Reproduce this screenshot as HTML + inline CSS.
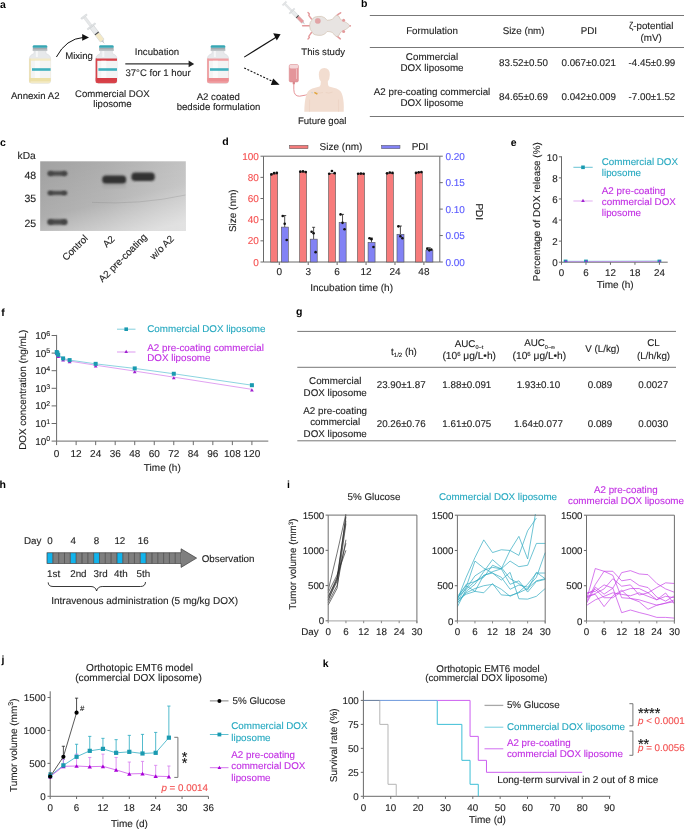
<!DOCTYPE html>
<html><head><meta charset="utf-8"><style>
html,body{margin:0;padding:0;background:#fff;}
svg{display:block;will-change:transform;}
text{font-family:"Liberation Sans",sans-serif;stroke-width:0.12px;text-rendering:geometricPrecision;}
</style></head><body>
<svg width="685" height="829" viewBox="0 0 685 829">
<rect width="685" height="829" fill="#fff"/>
<g font-size="9.8" fill="#1e1e1e">
<text x="0.00" y="7.80" font-weight="bold" fill="#000" font-size="10.5">a</text>
<text x="361.00" y="7.00" font-weight="bold" fill="#000" font-size="10.5">b</text>
<text x="0.00" y="145.80" font-weight="bold" fill="#000" font-size="10.5">c</text>
<text x="222.30" y="145.40" font-weight="bold" fill="#000" font-size="10.5">d</text>
<text x="510.80" y="145.60" font-weight="bold" fill="#000" font-size="10.5">e</text>
<text x="1.20" y="316.20" font-weight="bold" fill="#000" font-size="10.5">f</text>
<text x="296.00" y="314.60" font-weight="bold" fill="#000" font-size="10.5">g</text>
<text x="-0.60" y="487.60" font-weight="bold" fill="#000" font-size="10.5">h</text>
<text x="287.00" y="487.80" font-weight="bold" fill="#000" font-size="10.5">i</text>
<text x="1.50" y="663.20" font-weight="bold" fill="#000" font-size="10.5">j</text>
<text x="322.80" y="667.10" font-weight="bold" fill="#000" font-size="10.5">k</text>
<path d="M34.00,50.6 L34.00,53.6 Q29.60,55 29.40,58.6 L29.40,81 Q29.40,83.3 31.80,83.3 L48.20,83.3 Q50.60,83.3 50.60,81 L50.60,58.6 Q50.40,55 46.00,53.6 L46.00,50.6 Z" fill="#e7e9eb" stroke="#d4d7da" stroke-width="0.5"/>
<rect x="35.90" y="51.00" width="2.00" height="6.00" fill="#f6f7f8"/>
<path d="M29.40,58.6 L29.40,81 Q29.40,83.3 31.80,83.3 L48.20,83.3 Q50.60,83.3 50.60,81 L50.60,58.6 Z" fill="#f3eac6"/>
<rect x="29.40" y="77.80" width="21.20" height="3.50" fill="#ede0a6"/>
<rect x="29.40" y="58.60" width="1.10" height="24.00" fill="#eadcaa"/>
<rect x="30.90" y="60.80" width="19.70" height="17.20" fill="#f4f4f4"/>
<rect x="34.90" y="60.80" width="5.00" height="17.20" fill="#fbfbfb"/>
<rect x="32.00" y="68.20" width="18.60" height="2.60" fill="#3fb0bd"/>
<rect x="32.80" y="47.50" width="14.40" height="3.30" fill="#a4aaaf"/>
<rect x="32.80" y="49.50" width="14.40" height="1.30" fill="#c3c7ca"/>
<path d="M32.80,47.8 L32.80,46.3 Q32.80,45.2 34.00,45.2 L46.00,45.2 Q47.20,45.2 47.20,46.3 L47.20,47.8 Z" fill="#37a7b4"/>
<path d="M100.40,50.6 L100.40,53.6 Q96.00,55 95.80,58.6 L95.80,81 Q95.80,83.3 98.20,83.3 L114.60,83.3 Q117.00,83.3 117.00,81 L117.00,58.6 Q116.80,55 112.40,53.6 L112.40,50.6 Z" fill="#e7e9eb" stroke="#d4d7da" stroke-width="0.5"/>
<rect x="102.30" y="51.00" width="2.00" height="6.00" fill="#f6f7f8"/>
<path d="M95.80,58.6 L95.80,81 Q95.80,83.3 98.20,83.3 L114.60,83.3 Q117.00,83.3 117.00,81 L117.00,58.6 Z" fill="#d8434a"/>
<rect x="95.80" y="77.80" width="21.20" height="3.50" fill="#d63e46"/>
<rect x="95.80" y="58.60" width="1.10" height="24.00" fill="#d8434a"/>
<rect x="97.30" y="60.80" width="19.70" height="17.20" fill="#f4f4f4"/>
<rect x="101.30" y="60.80" width="5.00" height="17.20" fill="#fbfbfb"/>
<rect x="98.40" y="68.20" width="18.60" height="2.60" fill="#3fb0bd"/>
<rect x="99.20" y="47.50" width="14.40" height="3.30" fill="#a4aaaf"/>
<rect x="99.20" y="49.50" width="14.40" height="1.30" fill="#c3c7ca"/>
<path d="M99.20,47.8 L99.20,46.3 Q99.20,45.2 100.40,45.2 L112.40,45.2 Q113.60,45.2 113.60,46.3 L113.60,47.8 Z" fill="#37a7b4"/>
<path d="M212.00,50.6 L212.00,53.6 Q207.60,55 207.40,58.6 L207.40,81 Q207.40,83.3 209.80,83.3 L226.20,83.3 Q228.60,83.3 228.60,81 L228.60,58.6 Q228.40,55 224.00,53.6 L224.00,50.6 Z" fill="#e7e9eb" stroke="#d4d7da" stroke-width="0.5"/>
<rect x="213.90" y="51.00" width="2.00" height="6.00" fill="#f6f7f8"/>
<path d="M207.40,58.6 L207.40,81 Q207.40,83.3 209.80,83.3 L226.20,83.3 Q228.60,83.3 228.60,81 L228.60,58.6 Z" fill="#f0a0a3"/>
<rect x="207.40" y="77.80" width="21.20" height="3.50" fill="#ec8d91"/>
<rect x="207.40" y="58.60" width="1.10" height="24.00" fill="#ee979a"/>
<rect x="208.90" y="60.80" width="19.70" height="17.20" fill="#f4f4f4"/>
<rect x="212.90" y="60.80" width="5.00" height="17.20" fill="#fbfbfb"/>
<rect x="210.00" y="68.20" width="18.60" height="2.60" fill="#3fb0bd"/>
<rect x="210.80" y="47.50" width="14.40" height="3.30" fill="#a4aaaf"/>
<rect x="210.80" y="49.50" width="14.40" height="1.30" fill="#c3c7ca"/>
<path d="M210.80,47.8 L210.80,46.3 Q210.80,45.2 212.00,45.2 L224.00,45.2 Q225.20,45.2 225.20,46.3 L225.20,47.8 Z" fill="#37a7b4"/>
<g transform="translate(84.00 16.60) rotate(52.83) scale(1.029 1.000)"><rect x="-0.7" y="-3.6" width="1.6" height="7.2" rx="0.6" fill="#e3e5e6" stroke="#c9cdd0" stroke-width="0.4"/><rect x="0.9" y="-1.3" width="10.4" height="2.6" fill="#e6e8e9" stroke="#cdd1d3" stroke-width="0.35"/><rect x="11.2" y="-5.0" width="1.5" height="10.0" rx="0.6" fill="#e0e2e4" stroke="#c6cacd" stroke-width="0.4"/><rect x="12.7" y="-2.35" width="16.6" height="4.7" fill="#e9ebec" stroke="#c2c6c9" stroke-width="0.45"/><rect x="21.2" y="-2.15" width="8.0" height="4.3" fill="#f4e9c6"/><rect x="20.0" y="-2.3" width="1.2" height="4.6" fill="#4a4a4a"/><path d="M29.3,-1.5 L30.8,-0.6 L30.8,0.6 L29.3,1.5 Z" fill="#c3c7ca"/><path d="M30.8,-0.3 L33.3,0 L30.8,0.3 Z" fill="#9aa0a4"/></g>
<path d="M56.4,57 Q66,38.8 83.5,37.4" fill="none" stroke="#111" stroke-width="1.0"/>
<path d="M82.2,34 L89,37.4 L82.2,40.8 Z" fill="#111"/>
<text x="65.20" y="58.60" stroke="#1e1e1e" font-size="9.6">Mixing</text>
<text x="35.20" y="98.50" text-anchor="middle" stroke="#1e1e1e" font-size="9.6">Annexin A2</text>
<text x="112.30" y="97.20" text-anchor="middle" stroke="#1e1e1e" font-size="9.6">Commercial DOX</text>
<text x="112.50" y="106.80" text-anchor="middle" stroke="#1e1e1e" font-size="9.6">liposome</text>
<line x1="125.30" y1="63.90" x2="190.00" y2="63.90" stroke="#333" stroke-width="1.2"/>
<path d="M188.6,60.6 L194.2,63.9 L188.6,67.2 Z" fill="#222"/>
<text x="157.00" y="54.60" text-anchor="middle" stroke="#1e1e1e" font-size="9.6">Incubation</text>
<text x="158.00" y="76.20" text-anchor="middle" stroke="#1e1e1e" font-size="9.6">37°C for 1 hour</text>
<text x="218.30" y="100.00" text-anchor="middle" stroke="#1e1e1e" font-size="9.6">A2 coated</text>
<text x="218.50" y="109.60" text-anchor="middle" stroke="#1e1e1e" font-size="9.6">bedside formulation</text>
<line x1="244.20" y1="57.10" x2="276.50" y2="37.00" stroke="#111" stroke-width="1.1"/>
<path d="M273.2,33.2 L280.6,34.2 L276.8,40.6 Z" fill="#111"/>
<line x1="244.20" y1="68.00" x2="274.50" y2="82.20" stroke="#111" stroke-width="1.1" stroke-dasharray="2.0 1.5"/>
<path d="M273.2,78.4 L279.6,84.8 L270.8,84.9 Z" fill="#111"/>
<g fill="none" stroke-linecap="round" stroke-linejoin="round"><path d="M302.6,25.8 L310,25.8" stroke="#e49a9c" stroke-width="1.5"/><path d="M311.5,19 L310,17 L308.8,15.3 L309.4,14 L308,12.6" stroke="#e49a9c" stroke-width="1.4"/><path d="M311.5,32.5 L310,34.6 L308.8,36.3 L309.4,37.6 L308,38.9" stroke="#e49a9c" stroke-width="1.4"/><path d="M336.5,16 L338.5,14.2 L340.6,12.8" stroke="#e49a9c" stroke-width="1.6"/><path d="M336.5,35.6 L338.5,37.4 L340.3,38.8" stroke="#e49a9c" stroke-width="1.6"/></g>
<path d="M309.6,25.8 Q309.8,21.5 311.8,20.3 Q313,17.4 315,17 Q318,16.2 321.6,16.4 Q325,17 327.1,20.3 Q330,20.2 332.6,19.2 Q334.5,16 336.6,15.2 Q339,15.2 340,18.5 Q341,20.2 343.5,21.2 Q346.5,22.2 349.2,24.8 Q350.6,25.8 349.2,26.8 Q346.5,29.4 343.5,30.5 Q341,31.5 340,33.2 Q339,36.6 336.6,36.6 Q334.5,35.8 332.6,32.6 Q330,31.4 327.1,31.5 Q325,34.8 321.6,35.3 Q318,35.6 315,34.8 Q313,34.4 311.8,31.5 Q309.8,30.2 309.6,25.8 Z" fill="#e8e4e2" stroke="#cdbba8" stroke-width="0.6"/>
<circle cx="317.8" cy="20.9" r="2.7" fill="#e2a4a6" stroke="#d99a9d" stroke-width="0.3"/>
<circle cx="343.6" cy="20.2" r="1.5" fill="#e49a9c"/><circle cx="343.6" cy="31.4" r="1.5" fill="#e49a9c"/>
<circle cx="350.2" cy="25.8" r="0.9" fill="#e49a9c"/>
<g transform="translate(284.40 3.40) rotate(45.54) scale(0.900 0.720)"><rect x="-0.7" y="-3.6" width="1.6" height="7.2" rx="0.6" fill="#e3e5e6" stroke="#c9cdd0" stroke-width="0.4"/><rect x="0.9" y="-1.3" width="10.4" height="2.6" fill="#e6e8e9" stroke="#cdd1d3" stroke-width="0.35"/><rect x="11.2" y="-5.0" width="1.5" height="10.0" rx="0.6" fill="#e0e2e4" stroke="#c6cacd" stroke-width="0.4"/><rect x="12.7" y="-2.35" width="16.6" height="4.7" fill="#e9ebec" stroke="#c2c6c9" stroke-width="0.45"/><rect x="21.2" y="-2.15" width="8.0" height="4.3" fill="#e89a9e"/><rect x="20.0" y="-2.3" width="1.2" height="4.6" fill="#4a4a4a"/><path d="M29.3,-1.5 L30.8,-0.6 L30.8,0.6 L29.3,1.5 Z" fill="#c3c7ca"/><path d="M30.8,-0.3 L33.3,0 L30.8,0.3 Z" fill="#9aa0a4"/></g>
<text x="323.20" y="55.00" text-anchor="middle" stroke="#1e1e1e" font-size="9.6">This study</text>
<g><rect x="289.2" y="64.5" width="9.2" height="17.5" rx="1.6" fill="#e4959a" stroke="#d88489" stroke-width="0.5"/><rect x="289.5" y="64.8" width="8.6" height="3.6" rx="1.3" fill="#f4d6d8"/><rect x="296" y="69" width="0.9" height="10" fill="#f0c2c4"/><rect x="292.7" y="81.8" width="2.2" height="2.4" fill="#d88489"/><path d="M293.8,84 L293.8,89.5 Q294,96.3 299.5,96.2 Q305.5,95.6 311,93.2" stroke="#e0787e" stroke-width="0.8" fill="none"/><path d="M304.3,111.8 Q304.4,102 306,96 Q307.2,90.6 312.3,88.6 L319.6,86.6 Q320.9,85.6 320.8,81.6 Q318.8,79.2 318.8,74.8 Q318.8,68 324.3,68 Q329.8,68 329.8,74.8 Q329.8,79.2 327.8,81.6 Q327.7,85.6 329,86.6 L336.4,88.6 Q341.5,90.6 342.6,96 Q344.2,102 343.7,111.8 Z" fill="#f2ddd0"/><path d="M309.5,111.8 L309.6,99.5 M338.5,111.8 L338.4,99.5" stroke="#e9cdbd" stroke-width="0.5" fill="none"/><path d="M316,92 Q320,94 323,92.5 M332.6,92 Q328.6,94 325.6,92.5" stroke="#e6cab9" stroke-width="0.5" fill="none"/><path d="M311.3,92.4 L313,93" stroke="#cfd3d6" stroke-width="1.2"/><path d="M314.4,92.4 L317.4,94.2" stroke="#e0a33a" stroke-width="1.5"/></g>
<text x="322.20" y="124.00" text-anchor="middle" stroke="#1e1e1e" font-size="9.6">Future goal</text>
<line x1="369.80" y1="15.50" x2="684.00" y2="15.50" stroke="#777" stroke-width="1"/>
<line x1="369.80" y1="47.50" x2="684.00" y2="47.50" stroke="#777" stroke-width="1"/>
<line x1="369.80" y1="116.50" x2="684.00" y2="116.50" stroke="#777" stroke-width="1"/>
<text x="432.00" y="34.00" text-anchor="middle" stroke="#1e1e1e">Formulation</text>
<text x="523.60" y="34.00" text-anchor="middle" stroke="#1e1e1e">Size (nm)</text>
<text x="588.80" y="34.00" text-anchor="middle" stroke="#1e1e1e">PDI</text>
<text x="651.20" y="29.00" text-anchor="middle" stroke="#1e1e1e">ζ-potential</text>
<text x="651.20" y="41.40" text-anchor="middle" stroke="#1e1e1e">(mV)</text>
<text x="432.00" y="59.60" text-anchor="middle" stroke="#1e1e1e">Commercial</text>
<text x="432.00" y="71.30" text-anchor="middle" stroke="#1e1e1e">DOX liposome</text>
<text x="432.00" y="94.60" text-anchor="middle" stroke="#1e1e1e">A2 pre-coating commercial</text>
<text x="432.00" y="106.30" text-anchor="middle" stroke="#1e1e1e">DOX liposome</text>
<text x="523.50" y="66.30" text-anchor="middle" stroke="#1e1e1e">83.52±0.50</text>
<text x="588.70" y="66.30" text-anchor="middle" stroke="#1e1e1e">0.067±0.021</text>
<text x="651.90" y="66.30" text-anchor="middle" stroke="#1e1e1e">-4.45±0.99</text>
<text x="523.50" y="99.60" text-anchor="middle" stroke="#1e1e1e">84.65±0.69</text>
<text x="588.70" y="99.60" text-anchor="middle" stroke="#1e1e1e">0.042±0.009</text>
<text x="651.90" y="99.60" text-anchor="middle" stroke="#1e1e1e">-7.00±1.52</text>
<defs><linearGradient id="gel" x1="0" y1="0" x2="1" y2="0"><stop offset="0" stop-color="#a2a2a2"/><stop offset="0.45" stop-color="#acacac"/><stop offset="1" stop-color="#bfbfbf"/></linearGradient><linearGradient id="gelv" x1="0.25" y1="0" x2="0.75" y2="1"><stop offset="0" stop-color="#fff" stop-opacity="0"/><stop offset="0.55" stop-color="#fff" stop-opacity="0.12"/><stop offset="1" stop-color="#fff" stop-opacity="0.55"/></linearGradient><filter id="blur1" x="-30%" y="-100%" width="160%" height="300%"><feGaussianBlur stdDeviation="1.2"/></filter><filter id="blur2" x="-20%" y="-50%" width="140%" height="200%"><feGaussianBlur stdDeviation="0.5"/></filter></defs>
<rect x="40.20" y="161.30" width="145.60" height="69.60" fill="url(#gel)"/>
<rect x="40.20" y="161.30" width="145.60" height="69.60" fill="url(#gelv)"/>
<rect x="47.6" y="171.20" width="19.6" height="4.6" rx="2" fill="#4a4a4a" filter="url(#blur1)"/>
<rect x="48.2" y="171.60" width="5" height="3.80" rx="2" fill="#444" filter="url(#blur1)"/>
<rect x="61.6" y="171.60" width="5" height="3.80" rx="2" fill="#444" filter="url(#blur1)"/>
<rect x="47.6" y="190.90" width="19.6" height="4.2" rx="2" fill="#4a4a4a" filter="url(#blur1)"/>
<rect x="48.2" y="191.30" width="5" height="3.40" rx="2" fill="#444" filter="url(#blur1)"/>
<rect x="61.6" y="191.30" width="5" height="3.40" rx="2" fill="#444" filter="url(#blur1)"/>
<rect x="47.6" y="219.30" width="19.6" height="5.4" rx="2" fill="#4a4a4a" filter="url(#blur1)"/>
<rect x="48.2" y="219.70" width="5" height="4.60" rx="2" fill="#444" filter="url(#blur1)"/>
<rect x="61.6" y="219.70" width="5" height="4.60" rx="2" fill="#444" filter="url(#blur1)"/>
<rect x="102.2" y="175.4" width="24.0" height="8.4" rx="3.8" fill="#303030" filter="url(#blur1)"/>
<rect x="131.4" y="172.6" width="23.4" height="8.4" rx="3.8" fill="#303030" filter="url(#blur1)"/>
<rect x="102.4" y="184" width="23.4" height="4" fill="#9a9a9a" opacity="0.35" filter="url(#blur1)"/>
<path d="M92,202.4 Q140,205 185.5,195" fill="none" stroke="#808080" stroke-width="0.7" opacity="0.4"/>
<text x="17.60" y="159.10" stroke="#1e1e1e" font-size="10.2">kDa</text>
<text x="36.20" y="178.50" text-anchor="end" stroke="#1e1e1e" font-size="10.5">48</text>
<text x="36.20" y="201.50" text-anchor="end" stroke="#1e1e1e" font-size="10.5">35</text>
<text x="36.20" y="226.60" text-anchor="end" stroke="#1e1e1e" font-size="10.5">25</text>
<text x="88.60" y="239.00" text-anchor="end" stroke="#1e1e1e" transform="rotate(-45 88.60 239.00)">Control</text>
<text x="115.30" y="239.60" text-anchor="end" stroke="#1e1e1e" transform="rotate(-45 115.30 239.60)">A2</text>
<text x="147.60" y="237.70" text-anchor="end" stroke="#1e1e1e" transform="rotate(-45 147.60 237.70)">A2 pre-coating</text>
<text x="174.60" y="239.40" text-anchor="end" stroke="#1e1e1e" transform="rotate(-45 174.60 239.40)">w/o A2</text>
<line x1="263.50" y1="156.20" x2="439.80" y2="156.20" stroke="#6a6a6a" stroke-width="1"/>
<line x1="263.50" y1="156.20" x2="263.50" y2="262.00" stroke="#6a6a6a" stroke-width="1"/>
<line x1="439.80" y1="156.20" x2="439.80" y2="262.00" stroke="#6a6a6a" stroke-width="1"/>
<line x1="263.50" y1="262.00" x2="439.80" y2="262.00" stroke="#6a6a6a" stroke-width="1"/>
<line x1="260.50" y1="262.00" x2="263.50" y2="262.00" stroke="#6a6a6a" stroke-width="1"/>
<text x="258.90" y="265.60" text-anchor="end" fill="#f65050" stroke="#f65050" font-size="10">0</text>
<line x1="260.50" y1="240.84" x2="263.50" y2="240.84" stroke="#6a6a6a" stroke-width="1"/>
<text x="258.90" y="244.44" text-anchor="end" fill="#f65050" stroke="#f65050" font-size="10">20</text>
<line x1="260.50" y1="219.68" x2="263.50" y2="219.68" stroke="#6a6a6a" stroke-width="1"/>
<text x="258.90" y="223.28" text-anchor="end" fill="#f65050" stroke="#f65050" font-size="10">40</text>
<line x1="260.50" y1="198.52" x2="263.50" y2="198.52" stroke="#6a6a6a" stroke-width="1"/>
<text x="258.90" y="202.12" text-anchor="end" fill="#f65050" stroke="#f65050" font-size="10">60</text>
<line x1="260.50" y1="177.36" x2="263.50" y2="177.36" stroke="#6a6a6a" stroke-width="1"/>
<text x="258.90" y="180.96" text-anchor="end" fill="#f65050" stroke="#f65050" font-size="10">80</text>
<line x1="260.50" y1="156.20" x2="263.50" y2="156.20" stroke="#6a6a6a" stroke-width="1"/>
<text x="258.90" y="159.80" text-anchor="end" fill="#f65050" stroke="#f65050" font-size="10">100</text>
<line x1="439.80" y1="262.00" x2="442.80" y2="262.00" stroke="#6a6a6a" stroke-width="1"/>
<text x="445.40" y="265.60" fill="#5a5aff" stroke="#5a5aff" font-size="10">0.00</text>
<line x1="439.80" y1="235.55" x2="442.80" y2="235.55" stroke="#6a6a6a" stroke-width="1"/>
<text x="445.40" y="239.15" fill="#5a5aff" stroke="#5a5aff" font-size="10">0.05</text>
<line x1="439.80" y1="209.10" x2="442.80" y2="209.10" stroke="#6a6a6a" stroke-width="1"/>
<text x="445.40" y="212.70" fill="#5a5aff" stroke="#5a5aff" font-size="10">0.10</text>
<line x1="439.80" y1="182.65" x2="442.80" y2="182.65" stroke="#6a6a6a" stroke-width="1"/>
<text x="445.40" y="186.25" fill="#5a5aff" stroke="#5a5aff" font-size="10">0.15</text>
<line x1="439.80" y1="156.20" x2="442.80" y2="156.20" stroke="#6a6a6a" stroke-width="1"/>
<text x="445.40" y="159.80" fill="#5a5aff" stroke="#5a5aff" font-size="10">0.20</text>
<line x1="279.30" y1="262.00" x2="279.30" y2="265.00" stroke="#6a6a6a" stroke-width="1"/>
<text x="279.30" y="275.40" text-anchor="middle" stroke="#1e1e1e" font-size="10">0</text>
<rect x="270.70" y="173.97" width="7.00" height="88.03" fill="#f77b7b" stroke="#555" stroke-width="0.6"/>
<line x1="284.70" y1="227.09" x2="284.70" y2="215.55" stroke="#222" stroke-width="0.8"/>
<line x1="283.20" y1="215.55" x2="286.20" y2="215.55" stroke="#222" stroke-width="0.8"/>
<rect x="281.30" y="227.09" width="7.00" height="34.91" fill="#8282f5" stroke="#555" stroke-width="0.6"/>
<circle cx="271.40" cy="174.40" r="1.35" fill="#111"/>
<circle cx="274.10" cy="173.13" r="1.35" fill="#111"/>
<circle cx="276.80" cy="172.92" r="1.35" fill="#111"/>
<circle cx="282.70" cy="215.98" r="1.30" fill="#111"/>
<circle cx="284.70" cy="223.70" r="1.30" fill="#111"/>
<circle cx="286.70" cy="239.99" r="1.30" fill="#111"/>
<line x1="308.22" y1="262.00" x2="308.22" y2="265.00" stroke="#6a6a6a" stroke-width="1"/>
<text x="308.22" y="275.40" text-anchor="middle" stroke="#1e1e1e" font-size="10">3</text>
<rect x="299.62" y="171.86" width="7.00" height="90.14" fill="#f77b7b" stroke="#555" stroke-width="0.6"/>
<line x1="313.62" y1="239.15" x2="313.62" y2="227.30" stroke="#222" stroke-width="0.8"/>
<line x1="312.12" y1="227.30" x2="315.12" y2="227.30" stroke="#222" stroke-width="0.8"/>
<rect x="310.22" y="239.15" width="7.00" height="22.85" fill="#8282f5" stroke="#555" stroke-width="0.6"/>
<circle cx="300.32" cy="171.65" r="1.35" fill="#111"/>
<circle cx="303.02" cy="171.44" r="1.35" fill="#111"/>
<circle cx="305.72" cy="172.07" r="1.35" fill="#111"/>
<circle cx="311.62" cy="231.74" r="1.30" fill="#111"/>
<circle cx="313.62" cy="233.22" r="1.30" fill="#111"/>
<circle cx="315.62" cy="252.16" r="1.30" fill="#111"/>
<line x1="337.14" y1="262.00" x2="337.14" y2="265.00" stroke="#6a6a6a" stroke-width="1"/>
<text x="337.14" y="275.40" text-anchor="middle" stroke="#1e1e1e" font-size="10">6</text>
<rect x="328.54" y="173.34" width="7.00" height="88.66" fill="#f77b7b" stroke="#555" stroke-width="0.6"/>
<line x1="342.54" y1="222.64" x2="342.54" y2="214.39" stroke="#222" stroke-width="0.8"/>
<line x1="341.04" y1="214.39" x2="344.04" y2="214.39" stroke="#222" stroke-width="0.8"/>
<rect x="339.14" y="222.64" width="7.00" height="39.36" fill="#8282f5" stroke="#555" stroke-width="0.6"/>
<circle cx="329.24" cy="173.76" r="1.35" fill="#111"/>
<circle cx="331.94" cy="171.01" r="1.35" fill="#111"/>
<circle cx="334.64" cy="173.13" r="1.35" fill="#111"/>
<circle cx="340.54" cy="214.39" r="1.30" fill="#111"/>
<circle cx="342.54" cy="222.85" r="1.30" fill="#111"/>
<circle cx="344.54" cy="229.20" r="1.30" fill="#111"/>
<line x1="366.06" y1="262.00" x2="366.06" y2="265.00" stroke="#6a6a6a" stroke-width="1"/>
<text x="366.06" y="275.40" text-anchor="middle" stroke="#1e1e1e" font-size="10">12</text>
<rect x="357.46" y="173.76" width="7.00" height="88.24" fill="#f77b7b" stroke="#555" stroke-width="0.6"/>
<line x1="371.46" y1="242.32" x2="371.46" y2="238.09" stroke="#222" stroke-width="0.8"/>
<line x1="369.96" y1="238.09" x2="372.96" y2="238.09" stroke="#222" stroke-width="0.8"/>
<rect x="368.06" y="242.32" width="7.00" height="19.68" fill="#8282f5" stroke="#555" stroke-width="0.6"/>
<circle cx="358.16" cy="173.76" r="1.35" fill="#111"/>
<circle cx="360.86" cy="173.55" r="1.35" fill="#111"/>
<circle cx="363.56" cy="173.76" r="1.35" fill="#111"/>
<circle cx="369.46" cy="238.30" r="1.30" fill="#111"/>
<circle cx="371.46" cy="239.15" r="1.30" fill="#111"/>
<circle cx="373.46" cy="246.98" r="1.30" fill="#111"/>
<line x1="394.98" y1="262.00" x2="394.98" y2="265.00" stroke="#6a6a6a" stroke-width="1"/>
<text x="394.98" y="275.40" text-anchor="middle" stroke="#1e1e1e" font-size="10">24</text>
<rect x="386.38" y="173.34" width="7.00" height="88.66" fill="#f77b7b" stroke="#555" stroke-width="0.6"/>
<line x1="400.38" y1="234.28" x2="400.38" y2="226.03" stroke="#222" stroke-width="0.8"/>
<line x1="398.88" y1="226.03" x2="401.88" y2="226.03" stroke="#222" stroke-width="0.8"/>
<rect x="396.98" y="234.28" width="7.00" height="27.72" fill="#8282f5" stroke="#555" stroke-width="0.6"/>
<circle cx="387.08" cy="173.34" r="1.35" fill="#111"/>
<circle cx="389.78" cy="172.49" r="1.35" fill="#111"/>
<circle cx="392.48" cy="172.92" r="1.35" fill="#111"/>
<circle cx="398.38" cy="226.35" r="1.30" fill="#111"/>
<circle cx="400.38" cy="236.18" r="1.30" fill="#111"/>
<circle cx="402.38" cy="238.30" r="1.30" fill="#111"/>
<line x1="423.90" y1="262.00" x2="423.90" y2="265.00" stroke="#6a6a6a" stroke-width="1"/>
<text x="423.90" y="275.40" text-anchor="middle" stroke="#1e1e1e" font-size="10">48</text>
<rect x="415.30" y="172.49" width="7.00" height="89.51" fill="#f77b7b" stroke="#555" stroke-width="0.6"/>
<line x1="429.30" y1="250.15" x2="429.30" y2="247.82" stroke="#222" stroke-width="0.8"/>
<line x1="427.80" y1="247.82" x2="430.80" y2="247.82" stroke="#222" stroke-width="0.8"/>
<rect x="425.90" y="250.15" width="7.00" height="11.85" fill="#8282f5" stroke="#555" stroke-width="0.6"/>
<circle cx="416.00" cy="172.92" r="1.35" fill="#111"/>
<circle cx="418.70" cy="172.28" r="1.35" fill="#111"/>
<circle cx="421.40" cy="172.07" r="1.35" fill="#111"/>
<circle cx="427.30" cy="248.67" r="1.30" fill="#111"/>
<circle cx="429.30" cy="250.36" r="1.30" fill="#111"/>
<circle cx="431.30" cy="249.52" r="1.30" fill="#111"/>
<text x="351.60" y="290.50" text-anchor="middle" stroke="#1e1e1e" font-size="10">Incubation time (h)</text>
<text x="235.60" y="210.70" text-anchor="middle" stroke="#1e1e1e" font-size="10" transform="rotate(-90 235.60 210.70)">Size (nm)</text>
<text x="475.80" y="211.80" text-anchor="middle" stroke="#1e1e1e" font-size="10" transform="rotate(90 475.80 211.80)">PDI</text>
<rect x="289.50" y="145.30" width="18.50" height="3.40" fill="#f47b7b" stroke="#555" stroke-width="0.5"/>
<text x="319.60" y="150.40" stroke="#1e1e1e" font-size="10">Size (nm)</text>
<rect x="381.50" y="145.30" width="18.50" height="3.40" fill="#8282f5" stroke="#555" stroke-width="0.5"/>
<text x="411.70" y="150.40" stroke="#1e1e1e" font-size="10">PDI</text>
<line x1="561.50" y1="156.30" x2="561.50" y2="262.20" stroke="#6a6a6a" stroke-width="1"/>
<line x1="561.50" y1="262.20" x2="667.70" y2="262.20" stroke="#6a6a6a" stroke-width="1"/>
<line x1="558.90" y1="262.20" x2="561.50" y2="262.20" stroke="#6a6a6a" stroke-width="1"/>
<text x="557.70" y="266.40" text-anchor="end" stroke="#1e1e1e">0</text>
<line x1="558.90" y1="241.12" x2="561.50" y2="241.12" stroke="#6a6a6a" stroke-width="1"/>
<text x="557.70" y="245.32" text-anchor="end" stroke="#1e1e1e">2</text>
<line x1="558.90" y1="220.04" x2="561.50" y2="220.04" stroke="#6a6a6a" stroke-width="1"/>
<text x="557.70" y="224.24" text-anchor="end" stroke="#1e1e1e">4</text>
<line x1="558.90" y1="198.96" x2="561.50" y2="198.96" stroke="#6a6a6a" stroke-width="1"/>
<text x="557.70" y="203.16" text-anchor="end" stroke="#1e1e1e">6</text>
<line x1="558.90" y1="177.88" x2="561.50" y2="177.88" stroke="#6a6a6a" stroke-width="1"/>
<text x="557.70" y="182.08" text-anchor="end" stroke="#1e1e1e">8</text>
<line x1="558.90" y1="156.80" x2="561.50" y2="156.80" stroke="#6a6a6a" stroke-width="1"/>
<text x="557.70" y="161.00" text-anchor="end" stroke="#1e1e1e">10</text>
<line x1="561.50" y1="262.20" x2="561.50" y2="264.80" stroke="#6a6a6a" stroke-width="1"/>
<text x="561.50" y="275.50" text-anchor="middle" stroke="#1e1e1e">0</text>
<line x1="585.98" y1="262.20" x2="585.98" y2="264.80" stroke="#6a6a6a" stroke-width="1"/>
<text x="585.98" y="275.50" text-anchor="middle" stroke="#1e1e1e">6</text>
<line x1="610.46" y1="262.20" x2="610.46" y2="264.80" stroke="#6a6a6a" stroke-width="1"/>
<text x="610.46" y="275.50" text-anchor="middle" stroke="#1e1e1e">12</text>
<line x1="634.94" y1="262.20" x2="634.94" y2="264.80" stroke="#6a6a6a" stroke-width="1"/>
<text x="634.94" y="275.50" text-anchor="middle" stroke="#1e1e1e">18</text>
<line x1="659.42" y1="262.20" x2="659.42" y2="264.80" stroke="#6a6a6a" stroke-width="1"/>
<text x="659.42" y="275.50" text-anchor="middle" stroke="#1e1e1e">24</text>
<text x="615.20" y="288.30" text-anchor="middle" stroke="#1e1e1e" font-size="10">Time (h)</text>
<text x="540.20" y="211.70" text-anchor="middle" stroke="#1e1e1e" font-size="9.9" transform="rotate(-90 540.20 211.70)">Percentage of DOX release (%)</text>
<polyline points="565.58,261.30 585.98,261.30 659.42,261.10" fill="none" stroke="#27a9c0" stroke-width="0.6" stroke-linejoin="round"/>
<polyline points="565.58,261.60 585.98,261.60 659.42,261.40" fill="none" stroke="#cf7fe8" stroke-width="0.7" stroke-linejoin="round"/>
<rect x="563.68" y="259.60" width="3.80" height="2.60" fill="#1a9ab0"/>
<path d="M564.58,262.11 L567.18,262.11 L565.88,259.89Z" fill="#a020d0"/>
<rect x="584.08" y="259.60" width="3.80" height="2.60" fill="#1a9ab0"/>
<path d="M584.98,262.11 L587.58,262.11 L586.28,259.89Z" fill="#a020d0"/>
<rect x="657.52" y="259.60" width="3.80" height="2.60" fill="#1a9ab0"/>
<path d="M658.42,262.11 L661.02,262.11 L659.72,259.89Z" fill="#a020d0"/>
<line x1="573.40" y1="167.30" x2="592.70" y2="167.30" stroke="#27a9c0" stroke-width="0.7"/>
<rect x="581.20" y="165.50" width="3.60" height="3.60" fill="#1a9ab0"/>
<line x1="573.40" y1="201.00" x2="592.70" y2="201.00" stroke="#d68aec" stroke-width="0.7"/>
<path d="M581.20,201.93 L584.80,201.93 L583.00,198.87Z" fill="#a020d0"/>
<text x="601.80" y="164.60" fill="#27a9c0" stroke="#27a9c0">Commercial DOX</text>
<text x="601.80" y="176.20" fill="#27a9c0" stroke="#27a9c0">liposome</text>
<text x="601.80" y="193.70" fill="#c12ee3" stroke="#c12ee3">A2 pre-coating</text>
<text x="601.80" y="205.00" fill="#c12ee3" stroke="#c12ee3">commercial DOX</text>
<text x="601.80" y="216.30" fill="#c12ee3" stroke="#c12ee3">liposome</text>
<line x1="56.60" y1="334.90" x2="56.60" y2="441.10" stroke="#6a6a6a" stroke-width="1"/>
<line x1="56.60" y1="441.10" x2="268.30" y2="441.10" stroke="#6a6a6a" stroke-width="1"/>
<line x1="51.60" y1="441.10" x2="56.60" y2="441.10" stroke="#6a6a6a" stroke-width="1"/>
<text x="50.20" y="444.50" text-anchor="end" stroke="#1e1e1e" font-size="10">10<tspan dy="-3.2" font-size="7">0</tspan></text>
<line x1="51.60" y1="423.50" x2="56.60" y2="423.50" stroke="#6a6a6a" stroke-width="1"/>
<text x="50.20" y="426.90" text-anchor="end" stroke="#1e1e1e" font-size="10">10<tspan dy="-3.2" font-size="7">1</tspan></text>
<line x1="51.60" y1="405.90" x2="56.60" y2="405.90" stroke="#6a6a6a" stroke-width="1"/>
<text x="50.20" y="409.30" text-anchor="end" stroke="#1e1e1e" font-size="10">10<tspan dy="-3.2" font-size="7">2</tspan></text>
<line x1="51.60" y1="388.30" x2="56.60" y2="388.30" stroke="#6a6a6a" stroke-width="1"/>
<text x="50.20" y="391.70" text-anchor="end" stroke="#1e1e1e" font-size="10">10<tspan dy="-3.2" font-size="7">3</tspan></text>
<line x1="51.60" y1="370.70" x2="56.60" y2="370.70" stroke="#6a6a6a" stroke-width="1"/>
<text x="50.20" y="374.10" text-anchor="end" stroke="#1e1e1e" font-size="10">10<tspan dy="-3.2" font-size="7">4</tspan></text>
<line x1="51.60" y1="353.10" x2="56.60" y2="353.10" stroke="#6a6a6a" stroke-width="1"/>
<text x="50.20" y="356.50" text-anchor="end" stroke="#1e1e1e" font-size="10">10<tspan dy="-3.2" font-size="7">5</tspan></text>
<line x1="51.60" y1="335.50" x2="56.60" y2="335.50" stroke="#6a6a6a" stroke-width="1"/>
<text x="50.20" y="338.90" text-anchor="end" stroke="#1e1e1e" font-size="10">10<tspan dy="-3.2" font-size="7">6</tspan></text>
<line x1="56.60" y1="441.10" x2="56.60" y2="445.10" stroke="#6a6a6a" stroke-width="1"/>
<text x="56.60" y="457.30" text-anchor="middle" stroke="#1e1e1e" font-size="10">0</text>
<line x1="76.13" y1="441.10" x2="76.13" y2="445.10" stroke="#6a6a6a" stroke-width="1"/>
<text x="76.13" y="457.30" text-anchor="middle" stroke="#1e1e1e" font-size="10">12</text>
<line x1="95.66" y1="441.10" x2="95.66" y2="445.10" stroke="#6a6a6a" stroke-width="1"/>
<text x="95.66" y="457.30" text-anchor="middle" stroke="#1e1e1e" font-size="10">24</text>
<line x1="115.19" y1="441.10" x2="115.19" y2="445.10" stroke="#6a6a6a" stroke-width="1"/>
<text x="115.19" y="457.30" text-anchor="middle" stroke="#1e1e1e" font-size="10">36</text>
<line x1="134.72" y1="441.10" x2="134.72" y2="445.10" stroke="#6a6a6a" stroke-width="1"/>
<text x="134.72" y="457.30" text-anchor="middle" stroke="#1e1e1e" font-size="10">48</text>
<line x1="154.25" y1="441.10" x2="154.25" y2="445.10" stroke="#6a6a6a" stroke-width="1"/>
<text x="154.25" y="457.30" text-anchor="middle" stroke="#1e1e1e" font-size="10">60</text>
<line x1="173.78" y1="441.10" x2="173.78" y2="445.10" stroke="#6a6a6a" stroke-width="1"/>
<text x="173.78" y="457.30" text-anchor="middle" stroke="#1e1e1e" font-size="10">72</text>
<line x1="193.31" y1="441.10" x2="193.31" y2="445.10" stroke="#6a6a6a" stroke-width="1"/>
<text x="193.31" y="457.30" text-anchor="middle" stroke="#1e1e1e" font-size="10">84</text>
<line x1="212.84" y1="441.10" x2="212.84" y2="445.10" stroke="#6a6a6a" stroke-width="1"/>
<text x="212.84" y="457.30" text-anchor="middle" stroke="#1e1e1e" font-size="10">96</text>
<line x1="232.37" y1="441.10" x2="232.37" y2="445.10" stroke="#6a6a6a" stroke-width="1"/>
<text x="232.37" y="457.30" text-anchor="middle" stroke="#1e1e1e" font-size="10">108</text>
<line x1="251.90" y1="441.10" x2="251.90" y2="445.10" stroke="#6a6a6a" stroke-width="1"/>
<text x="251.90" y="457.30" text-anchor="middle" stroke="#1e1e1e" font-size="10">120</text>
<text x="162.30" y="471.10" text-anchor="middle" stroke="#1e1e1e" font-size="10">Time (h)</text>
<text x="26.50" y="389.70" text-anchor="middle" stroke="#1e1e1e" font-size="9.9" transform="rotate(-90 26.50 389.70)">DOX concentration (ng/mL)</text>
<polyline points="56.74,352.03 57.41,353.10 58.23,354.81 63.11,358.40 69.62,360.10 95.66,363.85 134.72,368.41 173.78,373.76 251.90,385.20" fill="none" stroke="#4dbccf" stroke-width="0.65" stroke-linejoin="round"/>
<polyline points="56.74,352.73 57.41,353.91 58.23,355.83 63.11,359.38 69.62,361.12 95.66,365.21 134.72,371.09 173.78,377.15 251.90,389.36" fill="none" stroke="#cf6fe9" stroke-width="0.65" stroke-linejoin="round"/>
<path d="M54.84,354.94 L58.64,354.94 L56.74,351.71Z" fill="#a020d0"/>
<path d="M55.51,356.12 L59.31,356.12 L57.41,352.89Z" fill="#a020d0"/>
<path d="M56.33,358.04 L60.13,358.04 L58.23,354.81Z" fill="#a020d0"/>
<path d="M61.21,361.59 L65.01,361.59 L63.11,358.36Z" fill="#a020d0"/>
<path d="M67.72,363.34 L71.52,363.34 L69.62,360.11Z" fill="#a020d0"/>
<path d="M93.76,367.43 L97.56,367.43 L95.66,364.20Z" fill="#a020d0"/>
<path d="M132.82,373.31 L136.62,373.31 L134.72,370.08Z" fill="#a020d0"/>
<path d="M171.88,379.37 L175.68,379.37 L173.78,376.14Z" fill="#a020d0"/>
<path d="M250.00,391.58 L253.80,391.58 L251.90,388.35Z" fill="#a020d0"/>
<rect x="54.74" y="350.03" width="4.00" height="4.00" fill="#1a9ab0"/>
<rect x="55.41" y="351.10" width="4.00" height="4.00" fill="#1a9ab0"/>
<rect x="56.23" y="352.81" width="4.00" height="4.00" fill="#1a9ab0"/>
<rect x="61.11" y="356.40" width="4.00" height="4.00" fill="#1a9ab0"/>
<rect x="67.62" y="358.10" width="4.00" height="4.00" fill="#1a9ab0"/>
<rect x="93.66" y="361.85" width="4.00" height="4.00" fill="#1a9ab0"/>
<rect x="132.72" y="366.41" width="4.00" height="4.00" fill="#1a9ab0"/>
<rect x="171.78" y="371.76" width="4.00" height="4.00" fill="#1a9ab0"/>
<rect x="249.90" y="383.20" width="4.00" height="4.00" fill="#1a9ab0"/>
<line x1="117.00" y1="329.20" x2="135.50" y2="329.20" stroke="#4dbccf" stroke-width="0.7"/>
<rect x="124.40" y="327.40" width="3.60" height="3.60" fill="#1a9ab0"/>
<line x1="117.00" y1="352.00" x2="135.50" y2="352.00" stroke="#cf6fe9" stroke-width="0.7"/>
<path d="M124.40,352.93 L128.00,352.93 L126.20,349.87Z" fill="#a020d0"/>
<text x="147.30" y="332.30" fill="#27a9c0" stroke="#27a9c0">Commercial DOX liposome</text>
<text x="147.30" y="350.70" fill="#c12ee3" stroke="#c12ee3">A2 pre-coating commercial</text>
<text x="147.30" y="361.40" fill="#c12ee3" stroke="#c12ee3">DOX liposome</text>
<line x1="297.30" y1="331.40" x2="676.00" y2="331.40" stroke="#777" stroke-width="1"/>
<line x1="297.30" y1="367.30" x2="676.00" y2="367.30" stroke="#777" stroke-width="1"/>
<line x1="297.30" y1="440.80" x2="676.00" y2="440.80" stroke="#777" stroke-width="1"/>
<text x="404.00" y="354.60" text-anchor="middle" stroke="#1e1e1e">t<tspan font-size="6" dy="2.4">1/2</tspan><tspan dy="-2.4"> (h)</tspan></text>
<text x="469.00" y="346.60" text-anchor="middle" stroke="#1e1e1e">AUC<tspan font-size="5.5" dy="2.6">0−t</tspan></text>
<text x="469.20" y="359.00" text-anchor="middle" stroke="#1e1e1e" font-size="10.2">(10<tspan font-size="6" dy="-3.5">6</tspan><tspan dy="3.5"> μg/L•h)</tspan></text>
<text x="539.60" y="346.40" text-anchor="middle" stroke="#1e1e1e">AUC<tspan font-size="5.5" dy="2.6">0−∞</tspan></text>
<text x="539.40" y="359.00" text-anchor="middle" stroke="#1e1e1e" font-size="10.2">(10<tspan font-size="6" dy="-3.5">6</tspan><tspan dy="3.5"> μg/L•h)</tspan></text>
<text x="602.40" y="352.30" text-anchor="middle" stroke="#1e1e1e">V (L/kg)</text>
<text x="653.50" y="346.30" text-anchor="middle" stroke="#1e1e1e">CL</text>
<text x="653.50" y="358.90" text-anchor="middle" stroke="#1e1e1e">(L/h/kg)</text>
<text x="335.20" y="384.40" text-anchor="middle" stroke="#1e1e1e">Commercial</text>
<text x="335.20" y="395.60" text-anchor="middle" stroke="#1e1e1e">DOX liposome</text>
<text x="335.20" y="413.60" text-anchor="middle" stroke="#1e1e1e">A2 pre-coating</text>
<text x="335.20" y="425.30" text-anchor="middle" stroke="#1e1e1e">commercial</text>
<text x="335.20" y="437.00" text-anchor="middle" stroke="#1e1e1e">DOX liposome</text>
<text x="401.20" y="388.30" text-anchor="middle" stroke="#1e1e1e">23.90±1.87</text>
<text x="466.80" y="388.30" text-anchor="middle" stroke="#1e1e1e">1.88±0.091</text>
<text x="538.40" y="388.30" text-anchor="middle" stroke="#1e1e1e">1.93±0.10</text>
<text x="600.00" y="388.30" text-anchor="middle" stroke="#1e1e1e">0.089</text>
<text x="653.20" y="388.30" text-anchor="middle" stroke="#1e1e1e">0.0027</text>
<text x="401.20" y="426.60" text-anchor="middle" stroke="#1e1e1e">20.26±0.76</text>
<text x="466.80" y="426.60" text-anchor="middle" stroke="#1e1e1e">1.61±0.075</text>
<text x="538.40" y="426.60" text-anchor="middle" stroke="#1e1e1e">1.64±0.077</text>
<text x="600.00" y="426.60" text-anchor="middle" stroke="#1e1e1e">0.089</text>
<text x="653.20" y="426.60" text-anchor="middle" stroke="#1e1e1e">0.0030</text>
<rect x="47.00" y="552.80" width="5.83" height="10.60" fill="#12b4ec"/>
<rect x="52.83" y="552.80" width="5.83" height="10.60" fill="#7f7f7f"/>
<rect x="58.66" y="552.80" width="5.83" height="10.60" fill="#7f7f7f"/>
<rect x="64.49" y="552.80" width="5.83" height="10.60" fill="#7f7f7f"/>
<rect x="70.32" y="552.80" width="5.83" height="10.60" fill="#12b4ec"/>
<rect x="76.15" y="552.80" width="5.83" height="10.60" fill="#7f7f7f"/>
<rect x="81.98" y="552.80" width="5.83" height="10.60" fill="#7f7f7f"/>
<rect x="87.81" y="552.80" width="5.83" height="10.60" fill="#7f7f7f"/>
<rect x="93.64" y="552.80" width="5.83" height="10.60" fill="#12b4ec"/>
<rect x="99.47" y="552.80" width="5.83" height="10.60" fill="#7f7f7f"/>
<rect x="105.30" y="552.80" width="5.83" height="10.60" fill="#7f7f7f"/>
<rect x="111.13" y="552.80" width="5.83" height="10.60" fill="#7f7f7f"/>
<rect x="116.96" y="552.80" width="5.83" height="10.60" fill="#12b4ec"/>
<rect x="122.79" y="552.80" width="5.83" height="10.60" fill="#7f7f7f"/>
<rect x="128.62" y="552.80" width="5.83" height="10.60" fill="#7f7f7f"/>
<rect x="134.45" y="552.80" width="5.83" height="10.60" fill="#7f7f7f"/>
<rect x="140.28" y="552.80" width="5.83" height="10.60" fill="#12b4ec"/>
<rect x="146.11" y="552.80" width="5.83" height="10.60" fill="#7f7f7f"/>
<rect x="151.94" y="552.80" width="5.83" height="10.60" fill="#7f7f7f"/>
<rect x="157.77" y="552.80" width="5.83" height="10.60" fill="#7f7f7f"/>
<rect x="163.60" y="552.80" width="5.83" height="10.60" fill="#7f7f7f"/>
<rect x="169.43" y="552.80" width="5.83" height="10.60" fill="#7f7f7f"/>
<rect x="175.26" y="552.80" width="5.83" height="10.60" fill="#7f7f7f"/>
<line x1="52.83" y1="552.80" x2="52.83" y2="563.40" stroke="#3c3c3c" stroke-width="0.7"/>
<line x1="58.66" y1="552.80" x2="58.66" y2="563.40" stroke="#3c3c3c" stroke-width="0.7"/>
<line x1="64.49" y1="552.80" x2="64.49" y2="563.40" stroke="#3c3c3c" stroke-width="0.7"/>
<line x1="70.32" y1="552.80" x2="70.32" y2="563.40" stroke="#3c3c3c" stroke-width="0.7"/>
<line x1="76.15" y1="552.80" x2="76.15" y2="563.40" stroke="#3c3c3c" stroke-width="0.7"/>
<line x1="81.98" y1="552.80" x2="81.98" y2="563.40" stroke="#3c3c3c" stroke-width="0.7"/>
<line x1="87.81" y1="552.80" x2="87.81" y2="563.40" stroke="#3c3c3c" stroke-width="0.7"/>
<line x1="93.64" y1="552.80" x2="93.64" y2="563.40" stroke="#3c3c3c" stroke-width="0.7"/>
<line x1="99.47" y1="552.80" x2="99.47" y2="563.40" stroke="#3c3c3c" stroke-width="0.7"/>
<line x1="105.30" y1="552.80" x2="105.30" y2="563.40" stroke="#3c3c3c" stroke-width="0.7"/>
<line x1="111.13" y1="552.80" x2="111.13" y2="563.40" stroke="#3c3c3c" stroke-width="0.7"/>
<line x1="116.96" y1="552.80" x2="116.96" y2="563.40" stroke="#3c3c3c" stroke-width="0.7"/>
<line x1="122.79" y1="552.80" x2="122.79" y2="563.40" stroke="#3c3c3c" stroke-width="0.7"/>
<line x1="128.62" y1="552.80" x2="128.62" y2="563.40" stroke="#3c3c3c" stroke-width="0.7"/>
<line x1="134.45" y1="552.80" x2="134.45" y2="563.40" stroke="#3c3c3c" stroke-width="0.7"/>
<line x1="140.28" y1="552.80" x2="140.28" y2="563.40" stroke="#3c3c3c" stroke-width="0.7"/>
<line x1="146.11" y1="552.80" x2="146.11" y2="563.40" stroke="#3c3c3c" stroke-width="0.7"/>
<line x1="151.94" y1="552.80" x2="151.94" y2="563.40" stroke="#3c3c3c" stroke-width="0.7"/>
<line x1="157.77" y1="552.80" x2="157.77" y2="563.40" stroke="#3c3c3c" stroke-width="0.7"/>
<line x1="163.60" y1="552.80" x2="163.60" y2="563.40" stroke="#3c3c3c" stroke-width="0.7"/>
<line x1="169.43" y1="552.80" x2="169.43" y2="563.40" stroke="#3c3c3c" stroke-width="0.7"/>
<line x1="175.26" y1="552.80" x2="175.26" y2="563.40" stroke="#3c3c3c" stroke-width="0.7"/>
<rect x="47.00" y="552.80" width="134.09" height="10.60" fill="none" stroke="#3c3c3c" stroke-width="0.7"/>
<path d="M181.09,552.80 L181.09,548.8 L196.6,558.1 L181.09,567.4 L181.09,563.40" fill="#7f7f7f" stroke="#3c3c3c" stroke-width="0.7"/>
<text x="24.00" y="544.20" stroke="#1e1e1e">Day</text>
<text x="49.91" y="544.20" text-anchor="middle" stroke="#1e1e1e">0</text>
<text x="73.23" y="544.20" text-anchor="middle" stroke="#1e1e1e">4</text>
<text x="96.56" y="544.20" text-anchor="middle" stroke="#1e1e1e">8</text>
<text x="119.88" y="544.20" text-anchor="middle" stroke="#1e1e1e">12</text>
<text x="143.19" y="544.20" text-anchor="middle" stroke="#1e1e1e">16</text>
<text x="53.60" y="576.80" text-anchor="middle" stroke="#1e1e1e">1st</text>
<text x="78.40" y="576.80" text-anchor="middle" stroke="#1e1e1e">2nd</text>
<text x="100.60" y="576.80" text-anchor="middle" stroke="#1e1e1e">3rd</text>
<text x="120.80" y="576.80" text-anchor="middle" stroke="#1e1e1e">4th</text>
<text x="143.30" y="576.80" text-anchor="middle" stroke="#1e1e1e">5th</text>
<text x="201.70" y="562.20" stroke="#1e1e1e">Observation</text>
<path d="M48.2,582.4 Q48.2,586.5 53,586.5 L91,586.5 Q95.5,586.5 96.6,591 Q97.7,586.5 102.2,586.5 L140.5,586.5 Q145.3,586.5 145.5,582" fill="none" stroke="#222" stroke-width="0.9"/>
<text x="144.60" y="603.80" text-anchor="middle" stroke="#1e1e1e" font-size="10">Intravenous administration (5 mg/kg DOX)</text>
<svg x="327.70" y="514.60" width="89.70" height="106.70" viewBox="327.70 514.60 89.70 106.70" overflow="hidden">
<polyline points="328.20,599.66 337.07,581.34 345.94,515.10" fill="none" stroke="#2a2a2a" stroke-width="0.65" stroke-linejoin="round"/>
<polyline points="328.20,597.55 337.07,577.11 345.94,517.21" fill="none" stroke="#2a2a2a" stroke-width="0.65" stroke-linejoin="round"/>
<polyline points="328.20,602.48 337.07,585.57 345.94,539.76" fill="none" stroke="#2a2a2a" stroke-width="0.65" stroke-linejoin="round"/>
<polyline points="328.20,592.61 337.07,575.00 345.94,550.33" fill="none" stroke="#2a2a2a" stroke-width="0.65" stroke-linejoin="round"/>
<polyline points="328.20,605.02 337.07,588.39 345.94,523.56" fill="none" stroke="#2a2a2a" stroke-width="0.65" stroke-linejoin="round"/>
<polyline points="328.20,590.36 337.07,553.15 345.94,513.69" fill="none" stroke="#2a2a2a" stroke-width="0.65" stroke-linejoin="round"/>
<polyline points="328.20,600.36 337.07,578.52 345.94,543.29" fill="none" stroke="#2a2a2a" stroke-width="0.65" stroke-linejoin="round"/>
<polyline points="328.20,596.14 337.07,579.93 345.94,520.74" fill="none" stroke="#2a2a2a" stroke-width="0.65" stroke-linejoin="round"/>
</svg>
<svg x="456.90" y="514.70" width="88.80" height="106.80" viewBox="456.90 514.70 88.80 106.80" overflow="hidden">
<polyline points="457.40,599.84 466.18,577.27 474.96,557.52 483.74,539.89 492.52,552.58 501.30,549.76 510.08,550.47 518.86,555.40 527.64,530.72 536.42,518.02" fill="none" stroke="#30abc2" stroke-width="0.7" stroke-linejoin="round"/>
<polyline points="457.40,601.25 466.18,587.14 474.96,561.05 483.74,568.10 492.52,573.04 501.30,580.09 510.08,572.33 518.86,598.78 527.64,599.13 536.42,596.31 545.20,588.55" fill="none" stroke="#30abc2" stroke-width="0.7" stroke-linejoin="round"/>
<polyline points="457.40,603.37 466.18,591.38 474.96,584.32 483.74,571.63 492.52,559.64 501.30,567.39 510.08,578.68 518.86,583.62 527.64,589.97 536.42,572.33 545.20,578.68" fill="none" stroke="#30abc2" stroke-width="0.7" stroke-linejoin="round"/>
<polyline points="457.40,606.89 466.18,589.26 474.96,581.50 483.74,577.27 492.52,565.28 501.30,568.81 510.08,550.47 518.86,536.36 527.64,558.93 536.42,508.15" fill="none" stroke="#30abc2" stroke-width="0.7" stroke-linejoin="round"/>
<polyline points="457.40,598.43 466.18,584.32 474.96,581.50 483.74,575.86 492.52,571.63 501.30,568.81 510.08,561.05 518.86,566.69 527.64,565.28 536.42,543.41 545.20,543.41" fill="none" stroke="#30abc2" stroke-width="0.7" stroke-linejoin="round"/>
<polyline points="457.40,596.31 466.18,585.73 474.96,591.38 483.74,575.15 492.52,573.04 501.30,577.27 510.08,589.26 518.86,585.03 527.64,587.14 536.42,577.27 545.20,552.58" fill="none" stroke="#30abc2" stroke-width="0.7" stroke-linejoin="round"/>
<polyline points="457.40,602.66 466.18,592.79 474.96,588.55 483.74,585.73 492.52,584.32 501.30,589.26 510.08,596.31 518.86,592.08 527.64,584.32 536.42,573.04 545.20,573.04" fill="none" stroke="#30abc2" stroke-width="0.7" stroke-linejoin="round"/>
<polyline points="457.40,599.84 466.18,594.20 474.96,591.38 483.74,592.79 492.52,583.62 501.30,594.90 510.08,595.61 518.86,592.79 527.64,588.55 536.42,580.80 545.20,578.68" fill="none" stroke="#30abc2" stroke-width="0.7" stroke-linejoin="round"/>
<polyline points="457.40,597.72 466.18,588.55 474.96,575.86 483.74,570.22 492.52,567.39 501.30,568.81 510.08,584.32 518.86,580.80 527.64,592.08 536.42,581.50 545.20,579.39" fill="none" stroke="#30abc2" stroke-width="0.7" stroke-linejoin="round"/>
</svg>
<svg x="586.00" y="514.70" width="88.90" height="106.80" viewBox="586.00 514.70 88.90 106.80" overflow="hidden">
<polyline points="586.50,599.84 595.29,568.52 604.08,571.27 612.87,575.36 621.66,597.72 630.45,598.43 639.24,599.84 648.03,602.52 656.82,605.20 665.61,603.16 674.40,601.81" fill="none" stroke="#c640e6" stroke-width="0.7" stroke-linejoin="round"/>
<polyline points="586.50,592.79 595.29,591.38 604.08,584.89 612.87,588.20 621.66,572.61 630.45,570.64 639.24,573.95 648.03,574.66 656.82,583.48 665.61,588.91 674.40,592.29" fill="none" stroke="#c640e6" stroke-width="0.7" stroke-linejoin="round"/>
<polyline points="586.50,601.81 595.29,584.60 604.08,571.27 612.87,571.27 621.66,580.80 630.45,579.39 639.24,585.52 648.03,587.57 656.82,597.09 665.61,601.11 674.40,595.75" fill="none" stroke="#c640e6" stroke-width="0.7" stroke-linejoin="round"/>
<polyline points="586.50,597.72 595.29,593.42 604.08,588.91 612.87,578.68 621.66,586.23 630.45,584.89 639.24,595.04 648.03,592.79 656.82,587.57 665.61,582.84 674.40,583.48" fill="none" stroke="#c640e6" stroke-width="0.7" stroke-linejoin="round"/>
<polyline points="586.50,605.48 595.29,599.84 604.08,596.31 612.87,592.79 621.66,594.34 630.45,595.75 639.24,592.79 648.03,596.31 656.82,599.77 665.61,593.00 674.40,603.86" fill="none" stroke="#c640e6" stroke-width="0.7" stroke-linejoin="round"/>
<polyline points="586.50,596.31 595.29,594.34 604.08,606.61 612.87,595.75 621.66,590.25 630.45,598.43 639.24,601.81 648.03,609.29 656.82,605.20 665.61,603.16 674.40,599.84" fill="none" stroke="#c640e6" stroke-width="0.7" stroke-linejoin="round"/>
<polyline points="586.50,603.37 595.29,587.14 604.08,594.20 612.87,588.20 621.66,612.68 630.45,610.00 639.24,612.54 648.03,614.72 656.82,617.40 665.61,617.40 674.40,618.11" fill="none" stroke="#c640e6" stroke-width="0.7" stroke-linejoin="round"/>
<polyline points="586.50,594.20 595.29,589.26 604.08,597.72 612.87,597.72 621.66,591.38 630.45,588.55 639.24,588.55 648.03,592.79 656.82,599.84 665.61,596.31 674.40,597.72" fill="none" stroke="#c640e6" stroke-width="0.7" stroke-linejoin="round"/>
</svg>
<line x1="328.20" y1="620.80" x2="416.90" y2="620.80" stroke="#b4b4b4" stroke-width="1.3"/>
<path d="M328.20,620.80 L328.20,515.10 L416.90,515.10 L416.90,623.20" fill="none" stroke="#6e6e6e" stroke-width="1"/>
<line x1="325.60" y1="620.80" x2="328.20" y2="620.80" stroke="#666" stroke-width="1"/>
<text x="324.20" y="624.40" text-anchor="end" stroke="#1e1e1e" font-size="9.7">0</text>
<line x1="325.60" y1="585.57" x2="328.20" y2="585.57" stroke="#666" stroke-width="1"/>
<text x="324.20" y="589.17" text-anchor="end" stroke="#1e1e1e" font-size="9.7">500</text>
<line x1="325.60" y1="550.33" x2="328.20" y2="550.33" stroke="#666" stroke-width="1"/>
<text x="324.20" y="553.93" text-anchor="end" stroke="#1e1e1e" font-size="9.7">1000</text>
<line x1="325.60" y1="515.10" x2="328.20" y2="515.10" stroke="#666" stroke-width="1"/>
<text x="324.20" y="518.70" text-anchor="end" stroke="#1e1e1e" font-size="9.7">1500</text>
<line x1="328.20" y1="620.80" x2="328.20" y2="623.20" stroke="#888" stroke-width="1"/>
<text x="328.20" y="634.80" text-anchor="middle" stroke="#1e1e1e">0</text>
<line x1="345.94" y1="620.80" x2="345.94" y2="623.20" stroke="#888" stroke-width="1"/>
<text x="345.94" y="634.80" text-anchor="middle" stroke="#1e1e1e">6</text>
<line x1="363.68" y1="620.80" x2="363.68" y2="623.20" stroke="#888" stroke-width="1"/>
<text x="363.68" y="634.80" text-anchor="middle" stroke="#1e1e1e">12</text>
<line x1="381.42" y1="620.80" x2="381.42" y2="623.20" stroke="#888" stroke-width="1"/>
<text x="381.42" y="634.80" text-anchor="middle" stroke="#1e1e1e">18</text>
<line x1="399.16" y1="620.80" x2="399.16" y2="623.20" stroke="#888" stroke-width="1"/>
<text x="399.16" y="634.80" text-anchor="middle" stroke="#1e1e1e">24</text>
<line x1="416.90" y1="620.80" x2="416.90" y2="623.20" stroke="#888" stroke-width="1"/>
<text x="416.90" y="634.80" text-anchor="middle" stroke="#1e1e1e">30</text>
<line x1="457.40" y1="621.00" x2="545.20" y2="621.00" stroke="#b4b4b4" stroke-width="1.3"/>
<path d="M457.40,621.00 L457.40,515.20 L545.20,515.20 L545.20,623.40" fill="none" stroke="#6e6e6e" stroke-width="1"/>
<line x1="454.80" y1="621.00" x2="457.40" y2="621.00" stroke="#666" stroke-width="1"/>
<text x="453.40" y="624.60" text-anchor="end" stroke="#1e1e1e" font-size="9.7">0</text>
<line x1="454.80" y1="585.73" x2="457.40" y2="585.73" stroke="#666" stroke-width="1"/>
<text x="453.40" y="589.33" text-anchor="end" stroke="#1e1e1e" font-size="9.7">500</text>
<line x1="454.80" y1="550.47" x2="457.40" y2="550.47" stroke="#666" stroke-width="1"/>
<text x="453.40" y="554.07" text-anchor="end" stroke="#1e1e1e" font-size="9.7">1000</text>
<line x1="454.80" y1="515.20" x2="457.40" y2="515.20" stroke="#666" stroke-width="1"/>
<text x="453.40" y="518.80" text-anchor="end" stroke="#1e1e1e" font-size="9.7">1500</text>
<line x1="457.40" y1="621.00" x2="457.40" y2="623.40" stroke="#888" stroke-width="1"/>
<text x="457.40" y="634.80" text-anchor="middle" stroke="#1e1e1e">0</text>
<line x1="474.96" y1="621.00" x2="474.96" y2="623.40" stroke="#888" stroke-width="1"/>
<text x="474.96" y="634.80" text-anchor="middle" stroke="#1e1e1e">6</text>
<line x1="492.52" y1="621.00" x2="492.52" y2="623.40" stroke="#888" stroke-width="1"/>
<text x="492.52" y="634.80" text-anchor="middle" stroke="#1e1e1e">12</text>
<line x1="510.08" y1="621.00" x2="510.08" y2="623.40" stroke="#888" stroke-width="1"/>
<text x="510.08" y="634.80" text-anchor="middle" stroke="#1e1e1e">18</text>
<line x1="527.64" y1="621.00" x2="527.64" y2="623.40" stroke="#888" stroke-width="1"/>
<text x="527.64" y="634.80" text-anchor="middle" stroke="#1e1e1e">24</text>
<line x1="545.20" y1="621.00" x2="545.20" y2="623.40" stroke="#888" stroke-width="1"/>
<text x="545.20" y="634.80" text-anchor="middle" stroke="#1e1e1e">30</text>
<line x1="586.50" y1="621.00" x2="674.40" y2="621.00" stroke="#b4b4b4" stroke-width="1.3"/>
<path d="M586.50,621.00 L586.50,515.20 L674.40,515.20 L674.40,623.40" fill="none" stroke="#6e6e6e" stroke-width="1"/>
<line x1="583.90" y1="621.00" x2="586.50" y2="621.00" stroke="#666" stroke-width="1"/>
<text x="582.50" y="624.60" text-anchor="end" stroke="#1e1e1e" font-size="9.7">0</text>
<line x1="583.90" y1="585.73" x2="586.50" y2="585.73" stroke="#666" stroke-width="1"/>
<text x="582.50" y="589.33" text-anchor="end" stroke="#1e1e1e" font-size="9.7">500</text>
<line x1="583.90" y1="550.47" x2="586.50" y2="550.47" stroke="#666" stroke-width="1"/>
<text x="582.50" y="554.07" text-anchor="end" stroke="#1e1e1e" font-size="9.7">1000</text>
<line x1="583.90" y1="515.20" x2="586.50" y2="515.20" stroke="#666" stroke-width="1"/>
<text x="582.50" y="518.80" text-anchor="end" stroke="#1e1e1e" font-size="9.7">1500</text>
<line x1="586.50" y1="621.00" x2="586.50" y2="623.40" stroke="#888" stroke-width="1"/>
<text x="586.50" y="634.80" text-anchor="middle" stroke="#1e1e1e">0</text>
<line x1="604.08" y1="621.00" x2="604.08" y2="623.40" stroke="#888" stroke-width="1"/>
<text x="604.08" y="634.80" text-anchor="middle" stroke="#1e1e1e">6</text>
<line x1="621.66" y1="621.00" x2="621.66" y2="623.40" stroke="#888" stroke-width="1"/>
<text x="621.66" y="634.80" text-anchor="middle" stroke="#1e1e1e">12</text>
<line x1="639.24" y1="621.00" x2="639.24" y2="623.40" stroke="#888" stroke-width="1"/>
<text x="639.24" y="634.80" text-anchor="middle" stroke="#1e1e1e">18</text>
<line x1="656.82" y1="621.00" x2="656.82" y2="623.40" stroke="#888" stroke-width="1"/>
<text x="656.82" y="634.80" text-anchor="middle" stroke="#1e1e1e">24</text>
<line x1="674.40" y1="621.00" x2="674.40" y2="623.40" stroke="#888" stroke-width="1"/>
<text x="674.40" y="634.80" text-anchor="middle" stroke="#1e1e1e">30</text>
<text x="301.20" y="634.50" stroke="#1e1e1e">Day</text>
<text x="296.00" y="564.10" text-anchor="middle" stroke="#1e1e1e" transform="rotate(-90 296.00 564.10)">Tumor volume (mm<tspan font-size="6.3" dy="-2.6">3</tspan><tspan dy="2.6">)</tspan></text>
<text x="374.00" y="499.80" text-anchor="middle" stroke="#1e1e1e">5% Glucose</text>
<text x="498.00" y="500.00" text-anchor="middle" fill="#27a9c0" stroke="#27a9c0">Commercial DOX liposome</text>
<text x="625.80" y="492.80" text-anchor="middle" fill="#c12ee3" stroke="#c12ee3">A2 pre-coating</text>
<text x="626.00" y="504.20" text-anchor="middle" fill="#c12ee3" stroke="#c12ee3">commercial DOX liposome</text>
<line x1="50.20" y1="691.30" x2="50.20" y2="796.30" stroke="#6a6a6a" stroke-width="1"/>
<line x1="50.20" y1="796.30" x2="208.40" y2="796.30" stroke="#6a6a6a" stroke-width="1"/>
<line x1="47.50" y1="796.30" x2="50.20" y2="796.30" stroke="#6a6a6a" stroke-width="1"/>
<text x="45.60" y="800.20" text-anchor="end" stroke="#1e1e1e">0</text>
<line x1="47.50" y1="763.37" x2="50.20" y2="763.37" stroke="#6a6a6a" stroke-width="1"/>
<text x="45.60" y="767.26" text-anchor="end" stroke="#1e1e1e">500</text>
<line x1="47.50" y1="730.43" x2="50.20" y2="730.43" stroke="#6a6a6a" stroke-width="1"/>
<text x="45.60" y="734.33" text-anchor="end" stroke="#1e1e1e">1000</text>
<line x1="47.50" y1="697.50" x2="50.20" y2="697.50" stroke="#6a6a6a" stroke-width="1"/>
<text x="45.60" y="701.39" text-anchor="end" stroke="#1e1e1e">1500</text>
<line x1="50.20" y1="796.30" x2="50.20" y2="799.00" stroke="#6a6a6a" stroke-width="1"/>
<text x="50.20" y="810.90" text-anchor="middle" stroke="#1e1e1e">0</text>
<line x1="76.57" y1="796.30" x2="76.57" y2="799.00" stroke="#6a6a6a" stroke-width="1"/>
<text x="76.57" y="810.90" text-anchor="middle" stroke="#1e1e1e">6</text>
<line x1="102.94" y1="796.30" x2="102.94" y2="799.00" stroke="#6a6a6a" stroke-width="1"/>
<text x="102.94" y="810.90" text-anchor="middle" stroke="#1e1e1e">12</text>
<line x1="129.31" y1="796.30" x2="129.31" y2="799.00" stroke="#6a6a6a" stroke-width="1"/>
<text x="129.31" y="810.90" text-anchor="middle" stroke="#1e1e1e">18</text>
<line x1="155.68" y1="796.30" x2="155.68" y2="799.00" stroke="#6a6a6a" stroke-width="1"/>
<text x="155.68" y="810.90" text-anchor="middle" stroke="#1e1e1e">24</text>
<line x1="182.05" y1="796.30" x2="182.05" y2="799.00" stroke="#6a6a6a" stroke-width="1"/>
<text x="182.05" y="810.90" text-anchor="middle" stroke="#1e1e1e">30</text>
<line x1="208.42" y1="796.30" x2="208.42" y2="799.00" stroke="#6a6a6a" stroke-width="1"/>
<text x="208.42" y="810.90" text-anchor="middle" stroke="#1e1e1e">36</text>
<text x="129.50" y="827.30" text-anchor="middle" stroke="#1e1e1e" font-size="10">Time (d)</text>
<text x="16.80" y="745.30" text-anchor="middle" stroke="#1e1e1e" font-size="10" transform="rotate(-90 16.80 745.30)">Tumor volume (mm<tspan font-size="7" dy="-4">3</tspan><tspan dy="4">)</tspan></text>
<text x="139.50" y="671.30" text-anchor="middle" stroke="#1e1e1e" font-size="10.15">Orthotopic EMT6 model</text>
<text x="138.50" y="680.60" text-anchor="middle" stroke="#1e1e1e" font-size="10.15">(commercial DOX liposome)</text>
<line x1="50.20" y1="775.88" x2="50.20" y2="772.59" stroke="#27a9c0" stroke-width="0.8"/>
<line x1="48.60" y1="772.59" x2="51.80" y2="772.59" stroke="#27a9c0" stroke-width="0.8"/>
<line x1="63.39" y1="765.34" x2="63.39" y2="759.41" stroke="#27a9c0" stroke-width="0.8"/>
<line x1="61.79" y1="759.41" x2="64.98" y2="759.41" stroke="#27a9c0" stroke-width="0.8"/>
<line x1="76.57" y1="756.78" x2="76.57" y2="744.26" stroke="#27a9c0" stroke-width="0.8"/>
<line x1="74.97" y1="744.26" x2="78.17" y2="744.26" stroke="#27a9c0" stroke-width="0.8"/>
<line x1="89.75" y1="750.85" x2="89.75" y2="736.36" stroke="#27a9c0" stroke-width="0.8"/>
<line x1="88.16" y1="736.36" x2="91.35" y2="736.36" stroke="#27a9c0" stroke-width="0.8"/>
<line x1="102.94" y1="748.87" x2="102.94" y2="738.33" stroke="#27a9c0" stroke-width="0.8"/>
<line x1="101.34" y1="738.33" x2="104.54" y2="738.33" stroke="#27a9c0" stroke-width="0.8"/>
<line x1="116.12" y1="752.83" x2="116.12" y2="739.65" stroke="#27a9c0" stroke-width="0.8"/>
<line x1="114.53" y1="739.65" x2="117.72" y2="739.65" stroke="#27a9c0" stroke-width="0.8"/>
<line x1="129.31" y1="751.84" x2="129.31" y2="735.37" stroke="#27a9c0" stroke-width="0.8"/>
<line x1="127.71" y1="735.37" x2="130.91" y2="735.37" stroke="#27a9c0" stroke-width="0.8"/>
<line x1="142.50" y1="753.48" x2="142.50" y2="734.38" stroke="#27a9c0" stroke-width="0.8"/>
<line x1="140.90" y1="734.38" x2="144.09" y2="734.38" stroke="#27a9c0" stroke-width="0.8"/>
<line x1="155.68" y1="752.83" x2="155.68" y2="732.41" stroke="#27a9c0" stroke-width="0.8"/>
<line x1="154.08" y1="732.41" x2="157.28" y2="732.41" stroke="#27a9c0" stroke-width="0.8"/>
<line x1="168.87" y1="737.68" x2="168.87" y2="706.06" stroke="#27a9c0" stroke-width="0.8"/>
<line x1="167.27" y1="706.06" x2="170.47" y2="706.06" stroke="#27a9c0" stroke-width="0.8"/>
<line x1="50.20" y1="776.54" x2="50.20" y2="774.56" stroke="#d57cef" stroke-width="0.8"/>
<line x1="48.60" y1="774.56" x2="51.80" y2="774.56" stroke="#d57cef" stroke-width="0.8"/>
<line x1="63.39" y1="766.33" x2="63.39" y2="759.41" stroke="#d57cef" stroke-width="0.8"/>
<line x1="61.79" y1="759.41" x2="64.98" y2="759.41" stroke="#d57cef" stroke-width="0.8"/>
<line x1="76.57" y1="766.00" x2="76.57" y2="754.14" stroke="#d57cef" stroke-width="0.8"/>
<line x1="74.97" y1="754.14" x2="78.17" y2="754.14" stroke="#d57cef" stroke-width="0.8"/>
<line x1="89.75" y1="766.66" x2="89.75" y2="757.44" stroke="#d57cef" stroke-width="0.8"/>
<line x1="88.16" y1="757.44" x2="91.35" y2="757.44" stroke="#d57cef" stroke-width="0.8"/>
<line x1="102.94" y1="766.33" x2="102.94" y2="754.14" stroke="#d57cef" stroke-width="0.8"/>
<line x1="101.34" y1="754.14" x2="104.54" y2="754.14" stroke="#d57cef" stroke-width="0.8"/>
<line x1="116.12" y1="769.95" x2="116.12" y2="757.44" stroke="#d57cef" stroke-width="0.8"/>
<line x1="114.53" y1="757.44" x2="117.72" y2="757.44" stroke="#d57cef" stroke-width="0.8"/>
<line x1="129.31" y1="773.90" x2="129.31" y2="762.05" stroke="#d57cef" stroke-width="0.8"/>
<line x1="127.71" y1="762.05" x2="130.91" y2="762.05" stroke="#d57cef" stroke-width="0.8"/>
<line x1="142.50" y1="773.57" x2="142.50" y2="761.39" stroke="#d57cef" stroke-width="0.8"/>
<line x1="140.90" y1="761.39" x2="144.09" y2="761.39" stroke="#d57cef" stroke-width="0.8"/>
<line x1="155.68" y1="776.21" x2="155.68" y2="765.34" stroke="#d57cef" stroke-width="0.8"/>
<line x1="154.08" y1="765.34" x2="157.28" y2="765.34" stroke="#d57cef" stroke-width="0.8"/>
<line x1="168.87" y1="776.54" x2="168.87" y2="766.00" stroke="#d57cef" stroke-width="0.8"/>
<line x1="167.27" y1="766.00" x2="170.47" y2="766.00" stroke="#d57cef" stroke-width="0.8"/>
<line x1="50.20" y1="776.54" x2="50.20" y2="773.25" stroke="#222" stroke-width="0.8"/>
<line x1="48.60" y1="773.25" x2="51.80" y2="773.25" stroke="#222" stroke-width="0.8"/>
<line x1="63.39" y1="756.78" x2="63.39" y2="746.24" stroke="#222" stroke-width="0.8"/>
<line x1="61.79" y1="746.24" x2="64.98" y2="746.24" stroke="#222" stroke-width="0.8"/>
<line x1="76.57" y1="712.65" x2="76.57" y2="698.15" stroke="#222" stroke-width="0.8"/>
<line x1="74.97" y1="698.15" x2="78.17" y2="698.15" stroke="#222" stroke-width="0.8"/>
<polyline points="50.20,775.88 63.39,765.34 76.57,756.78 89.75,750.85 102.94,748.87 116.12,752.83 129.31,751.84 142.50,753.48 155.68,752.83 168.87,737.68" fill="none" stroke="#27a9c0" stroke-width="0.75" stroke-linejoin="round"/>
<polyline points="50.20,776.54 63.39,766.33 76.57,766.00 89.75,766.66 102.94,766.33 116.12,769.95 129.31,773.90 142.50,773.57 155.68,776.21 168.87,776.54" fill="none" stroke="#c84ae8" stroke-width="0.75" stroke-linejoin="round"/>
<polyline points="50.20,776.54 63.39,756.78 76.57,712.65" fill="none" stroke="#222" stroke-width="0.75" stroke-linejoin="round"/>
<path d="M48.00,778.41 L52.40,778.41 L50.20,774.67Z" fill="#a800d8"/>
<path d="M61.19,768.20 L65.59,768.20 L63.39,764.46Z" fill="#a800d8"/>
<path d="M74.37,767.87 L78.77,767.87 L76.57,764.13Z" fill="#a800d8"/>
<path d="M87.55,768.53 L91.95,768.53 L89.75,764.79Z" fill="#a800d8"/>
<path d="M100.74,768.20 L105.14,768.20 L102.94,764.46Z" fill="#a800d8"/>
<path d="M113.92,771.82 L118.33,771.82 L116.12,768.08Z" fill="#a800d8"/>
<path d="M127.11,775.77 L131.51,775.77 L129.31,772.03Z" fill="#a800d8"/>
<path d="M140.30,775.44 L144.69,775.44 L142.50,771.70Z" fill="#a800d8"/>
<path d="M153.48,778.08 L157.88,778.08 L155.68,774.34Z" fill="#a800d8"/>
<path d="M166.67,778.41 L171.06,778.41 L168.87,774.67Z" fill="#a800d8"/>
<rect x="48.10" y="773.78" width="4.20" height="4.20" fill="#1a9ab0"/>
<rect x="61.29" y="763.24" width="4.20" height="4.20" fill="#1a9ab0"/>
<rect x="74.47" y="754.68" width="4.20" height="4.20" fill="#1a9ab0"/>
<rect x="87.66" y="748.75" width="4.20" height="4.20" fill="#1a9ab0"/>
<rect x="100.84" y="746.77" width="4.20" height="4.20" fill="#1a9ab0"/>
<rect x="114.03" y="750.73" width="4.20" height="4.20" fill="#1a9ab0"/>
<rect x="127.21" y="749.74" width="4.20" height="4.20" fill="#1a9ab0"/>
<rect x="140.40" y="751.38" width="4.20" height="4.20" fill="#1a9ab0"/>
<rect x="153.58" y="750.73" width="4.20" height="4.20" fill="#1a9ab0"/>
<rect x="166.77" y="735.58" width="4.20" height="4.20" fill="#1a9ab0"/>
<circle cx="50.20" cy="776.54" r="2.10" fill="#000"/>
<circle cx="63.39" cy="756.78" r="2.10" fill="#000"/>
<circle cx="76.57" cy="712.65" r="2.10" fill="#000"/>
<text x="80.00" y="710.60" stroke="#1e1e1e" font-size="7.6" font-style="italic">#</text>
<path d="M174.3,737.3 L177.9,737.3 L177.9,777.4 L174.3,777.4" fill="none" stroke="#777" stroke-width="1"/>
<text x="184.60" y="761.80" text-anchor="middle" fill="#111" font-size="14.6" stroke="#111" stroke-width="0.3">*</text>
<text x="184.60" y="767.80" text-anchor="middle" fill="#111" font-size="14.6" stroke="#111" stroke-width="0.3">*</text>
<text x="161.40" y="790.70" fill="#f24f4f" stroke="#f24f4f"><tspan font-style="italic">p</tspan> = 0.0014</text>
<line x1="209.90" y1="700.90" x2="228.50" y2="700.90" stroke="#555" stroke-width="0.75"/>
<circle cx="219.40" cy="700.90" r="2.00" fill="#000"/>
<text x="232.60" y="704.30" stroke="#1e1e1e">5% Glucose</text>
<line x1="209.90" y1="734.50" x2="228.50" y2="734.50" stroke="#27a9c0" stroke-width="0.75"/>
<rect x="217.50" y="732.60" width="3.80" height="3.80" fill="#1a9ab0"/>
<text x="231.30" y="729.10" fill="#27a9c0" stroke="#27a9c0">Commercial DOX</text>
<text x="231.30" y="740.50" fill="#27a9c0" stroke="#27a9c0">liposome</text>
<line x1="209.90" y1="767.70" x2="228.50" y2="767.70" stroke="#c84ae8" stroke-width="0.75"/>
<path d="M217.50,768.91 L221.30,768.91 L219.40,765.68Z" fill="#a800d8"/>
<text x="231.30" y="757.50" fill="#c12ee3" stroke="#c12ee3">A2 pre-coating</text>
<text x="231.30" y="769.20" fill="#c12ee3" stroke="#c12ee3">commercial DOX</text>
<text x="231.30" y="780.70" fill="#c12ee3" stroke="#c12ee3">liposome</text>
<line x1="363.40" y1="690.70" x2="363.40" y2="796.30" stroke="#6a6a6a" stroke-width="1"/>
<line x1="363.40" y1="796.30" x2="610.40" y2="796.30" stroke="#6a6a6a" stroke-width="1"/>
<line x1="360.80" y1="796.30" x2="363.40" y2="796.30" stroke="#6a6a6a" stroke-width="1"/>
<text x="358.80" y="799.80" text-anchor="end" stroke="#1e1e1e">0</text>
<line x1="360.80" y1="772.32" x2="363.40" y2="772.32" stroke="#6a6a6a" stroke-width="1"/>
<text x="358.80" y="775.82" text-anchor="end" stroke="#1e1e1e">25</text>
<line x1="360.80" y1="748.35" x2="363.40" y2="748.35" stroke="#6a6a6a" stroke-width="1"/>
<text x="358.80" y="751.85" text-anchor="end" stroke="#1e1e1e">50</text>
<line x1="360.80" y1="724.38" x2="363.40" y2="724.38" stroke="#6a6a6a" stroke-width="1"/>
<text x="358.80" y="727.88" text-anchor="end" stroke="#1e1e1e">75</text>
<line x1="360.80" y1="700.40" x2="363.40" y2="700.40" stroke="#6a6a6a" stroke-width="1"/>
<text x="358.80" y="703.90" text-anchor="end" stroke="#1e1e1e">100</text>
<line x1="363.40" y1="796.30" x2="363.40" y2="798.90" stroke="#6a6a6a" stroke-width="1"/>
<text x="363.40" y="810.90" text-anchor="middle" stroke="#1e1e1e">0</text>
<line x1="390.75" y1="796.30" x2="390.75" y2="798.90" stroke="#6a6a6a" stroke-width="1"/>
<text x="390.75" y="810.90" text-anchor="middle" stroke="#1e1e1e">10</text>
<line x1="418.10" y1="796.30" x2="418.10" y2="798.90" stroke="#6a6a6a" stroke-width="1"/>
<text x="418.10" y="810.90" text-anchor="middle" stroke="#1e1e1e">20</text>
<line x1="445.45" y1="796.30" x2="445.45" y2="798.90" stroke="#6a6a6a" stroke-width="1"/>
<text x="445.45" y="810.90" text-anchor="middle" stroke="#1e1e1e">30</text>
<line x1="472.80" y1="796.30" x2="472.80" y2="798.90" stroke="#6a6a6a" stroke-width="1"/>
<text x="472.80" y="810.90" text-anchor="middle" stroke="#1e1e1e">40</text>
<line x1="500.15" y1="796.30" x2="500.15" y2="798.90" stroke="#6a6a6a" stroke-width="1"/>
<text x="500.15" y="810.90" text-anchor="middle" stroke="#1e1e1e">50</text>
<line x1="527.50" y1="796.30" x2="527.50" y2="798.90" stroke="#6a6a6a" stroke-width="1"/>
<text x="527.50" y="810.90" text-anchor="middle" stroke="#1e1e1e">60</text>
<line x1="554.85" y1="796.30" x2="554.85" y2="798.90" stroke="#6a6a6a" stroke-width="1"/>
<text x="554.85" y="810.90" text-anchor="middle" stroke="#1e1e1e">70</text>
<line x1="582.20" y1="796.30" x2="582.20" y2="798.90" stroke="#6a6a6a" stroke-width="1"/>
<text x="582.20" y="810.90" text-anchor="middle" stroke="#1e1e1e">80</text>
<line x1="609.55" y1="796.30" x2="609.55" y2="798.90" stroke="#6a6a6a" stroke-width="1"/>
<text x="609.55" y="810.90" text-anchor="middle" stroke="#1e1e1e">90</text>
<text x="487.50" y="823.10" text-anchor="middle" stroke="#1e1e1e" font-size="10">Time (d)</text>
<text x="336.80" y="745.30" text-anchor="middle" stroke="#1e1e1e" font-size="10" transform="rotate(-90 336.80 745.30)">Survival rate (%)</text>
<text x="488.00" y="671.80" text-anchor="middle" stroke="#1e1e1e">Orthotopic EMT6 model</text>
<text x="486.40" y="681.20" text-anchor="middle" stroke="#1e1e1e">(commercial DOX liposome)</text>
<polyline points="379.81,700.40 379.81,700.40 379.81,724.38 388.01,724.38 388.01,724.38 388.01,724.38 388.01,784.31 396.22,784.31 396.22,784.31 396.22,784.31 396.22,796.30" fill="none" stroke="#b5b5b5" stroke-width="1" stroke-linejoin="round"/>
<polyline points="437.25,700.40 437.25,700.40 437.25,724.38 461.86,724.38 461.86,724.38 461.86,724.38 461.86,760.34 470.06,760.34 470.06,760.34 470.06,760.34 470.06,784.31 478.27,784.31 478.27,784.31 478.27,784.31 478.27,796.30" fill="none" stroke="#3dbfd6" stroke-width="1" stroke-linejoin="round"/>
<polyline points="437.25,700.40 470.06,700.40 470.06,700.40 470.06,700.40 470.06,736.36 478.27,736.36 478.27,736.36 478.27,736.36 478.27,760.34 486.47,760.34 486.47,760.34 486.47,760.34 486.47,772.32 582.20,772.32 582.20,772.32" fill="none" stroke="#cc5ef0" stroke-width="1" stroke-linejoin="round"/>
<polyline points="379.81,700.40 437.25,700.40" fill="none" stroke="#6c98dc" stroke-width="1" stroke-linejoin="round"/>
<polyline points="363.40,700.40 379.81,700.40" fill="none" stroke="#61789a" stroke-width="1" stroke-linejoin="round"/>
<line x1="484.50" y1="705.40" x2="503.30" y2="705.40" stroke="#a8a8a8" stroke-width="1.3"/>
<text x="506.90" y="708.40" stroke="#1e1e1e">5% Glucose</text>
<line x1="484.50" y1="727.20" x2="503.30" y2="727.20" stroke="#52c2d6" stroke-width="0.8"/>
<text x="506.90" y="730.10" fill="#27a9c0" stroke="#27a9c0">Commercial DOX liposome</text>
<line x1="484.50" y1="748.80" x2="503.30" y2="748.80" stroke="#cc5ef0" stroke-width="0.9"/>
<text x="506.90" y="745.90" fill="#c12ee3" stroke="#c12ee3">A2 pre-coating</text>
<text x="506.90" y="757.00" fill="#c12ee3" stroke="#c12ee3">commercial DOX liposome</text>
<text x="497.20" y="783.40" stroke="#1e1e1e" font-size="10">Long-term survival in 2 out of 8 mice</text>
<path d="M629.4,703.7 L632.9,703.7 L632.9,725.8 L629.4,725.8" fill="none" stroke="#666" stroke-width="0.9"/>
<path d="M629.4,731.1 L632.9,731.1 L632.9,755.3 L629.4,755.3" fill="none" stroke="#666" stroke-width="0.9"/>
<text x="637.90" y="718.20" fill="#111" font-size="14.4" stroke="#111" stroke-width="0.3">****</text>
<text x="638.00" y="723.60" fill="#f24f4f" stroke="#f24f4f"><tspan font-style="italic">p</tspan> &lt; 0.0001</text>
<text x="637.90" y="749.00" fill="#111" font-size="14.4" stroke="#111" stroke-width="0.3">**</text>
<text x="638.00" y="750.60" fill="#f24f4f" stroke="#f24f4f"><tspan font-style="italic">p</tspan> = 0.0056</text>
</g>
</svg></body></html>
